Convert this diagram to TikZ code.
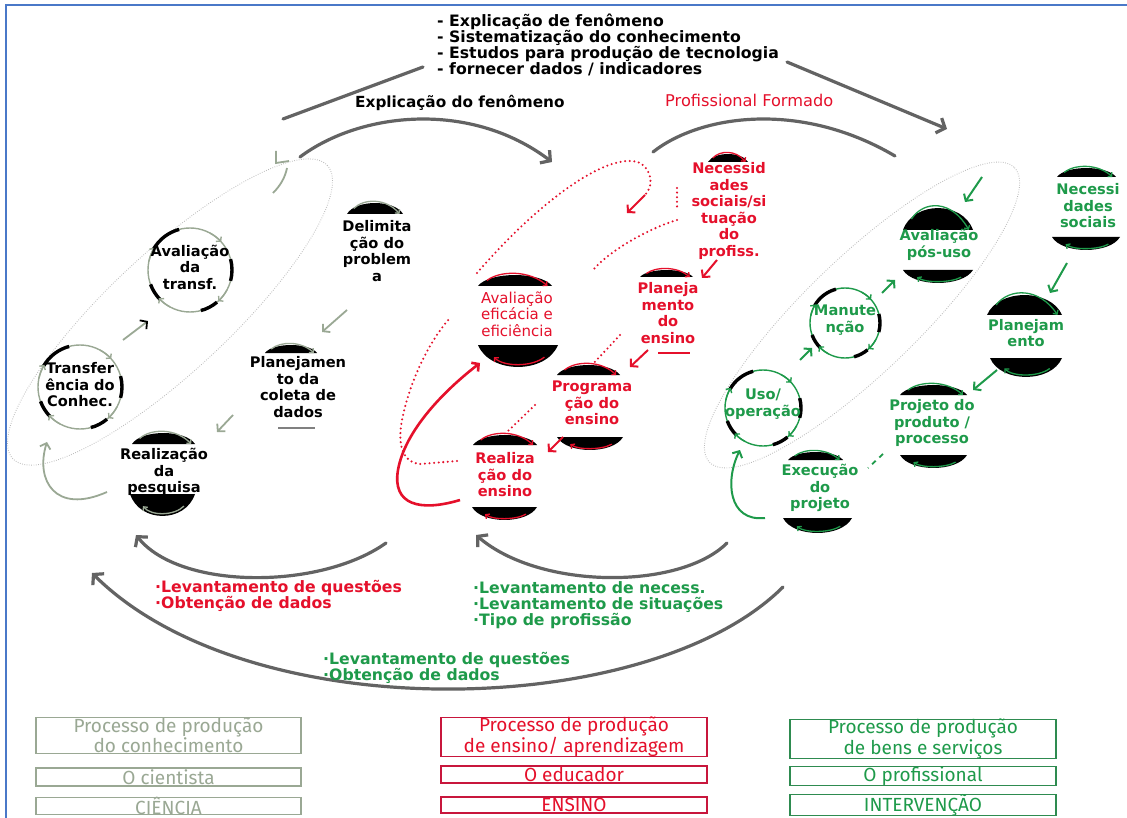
\documentclass[tikz,border=0pt]{standalone}
\usepackage{fontspec}
\setmainfont{DejaVu Sans}
\newfontfamily\boxfont{Fira Sans}
\usetikzlibrary{arrows.meta}
\definecolor{sage}{HTML}{9AA894}
\definecolor{rd}{HTML}{E5102B}
\definecolor{rdbox}{HTML}{C8163C}
\definecolor{gr}{HTML}{1E9A4A}
\definecolor{grbox}{HTML}{2E8B50}
\definecolor{gry}{HTML}{636363}
\definecolor{frameblue}{HTML}{4A78C8}
\newcommand{\topcap}[5]{%
  \pgfmathsetmacro{\myA}{#1+0.15*(#2-#1)}%
  \pgfmathsetmacro{\myB}{#2-0.15*(#2-#1)}%
  \pgfmathsetmacro{\myH}{#3-1.33*#4}%
  \fill[black] (#1,#3) .. controls (\myA,\myH) and (\myB,\myH) .. (#2,#3) -- cycle;
  \pgfmathsetmacro{\myS}{#1+0.12*(#2-#1)}%
  \pgfmathsetmacro{\myE}{#2-0.06*(#2-#1)}%
  \pgfmathsetmacro{\myP}{#1+0.3*(#2-#1)}%
  \pgfmathsetmacro{\myQ}{#2-0.3*(#2-#1)}%
  \pgfmathsetmacro{\myY}{#3-0.5*#4}%
  \pgfmathsetmacro{\myT}{#3-1.3*#4-1.5}%
  \draw[#5, line width=1.3pt, -{Straight Barb[length=3pt,width=6pt]}] (\myS,\myY) .. controls (\myP,\myT) and (\myQ,\myT) .. (\myE,#3);}
\newcommand{\botcap}[5]{%
  \pgfmathsetmacro{\myA}{#1+0.15*(#2-#1)}%
  \pgfmathsetmacro{\myB}{#2-0.15*(#2-#1)}%
  \pgfmathsetmacro{\myH}{#3+1.33*#4}%
  \fill[black] (#1,#3) .. controls (\myA,\myH) and (\myB,\myH) .. (#2,#3) -- cycle;
  \pgfmathsetmacro{\myS}{#2-0.17*(#2-#1)}%
  \pgfmathsetmacro{\myE}{#1+0.2*(#2-#1)}%
  \pgfmathsetmacro{\myP}{#2-0.32*(#2-#1)}%
  \pgfmathsetmacro{\myQ}{#1+0.32*(#2-#1)}%
  \pgfmathsetmacro{\myY}{#3+0.55*#4}%
  \pgfmathsetmacro{\myT}{#3+1.0*#4}%
  \draw[#5, line width=1.3pt, -{Straight Barb[length=3pt,width=6pt]}] (\myS,\myY) .. controls (\myP,\myT) and (\myQ,\myT) .. (\myE,\myY);}
\newcommand{\ringdeco}[4]{%
  \draw[#4, line width=1.4pt] (#1,#2) circle[radius=#3];
  \foreach \ra/\rb in {-150/-105, -15/15, -225/-200, -310/-285}
    \draw[black, line width=3.4pt] (#1,#2) ++(\ra:#3) arc[start angle=\ra, end angle=\rb, radius=#3];
  \foreach \ra/\rb in {-62/-42, 28/48, 118/138, -168/-148}
    \draw[#4, line width=1.4pt, -{Straight Barb[length=3pt,width=7pt]}] (#1,#2) ++(\ra:#3) arc[start angle=\ra, end angle=\rb, radius=#3];}
\begin{document}
\begin{tikzpicture}[x=1pt,y=-1pt,
  gline/.style={draw=gry, line width=3.2pt, line cap=round},
  garrow/.style={gline, -{Straight Barb[length=7pt,width=16pt]}},
  sarrow/.style={draw=sage, line width=1.8pt, -{Straight Barb[length=5pt,width=11pt]}},
  rarrow/.style={draw=rd, line width=2pt, -{Straight Barb[length=5pt,width=11pt]}},
  grarrow/.style={draw=gr, line width=2pt, -{Straight Barb[length=5pt,width=11pt]}},
  rdots/.style={draw=rd, line width=2.3pt, dash pattern=on 0pt off 4.6pt, line cap=round},
  loopline/.style={draw=gray!55, line width=0.9pt, dash pattern=on 0.7pt off 1.6pt},
  lab/.style={align=center, inner sep=0pt, font=\fontsize{14.6}{16.5}\selectfont\bfseries},
  txt/.style={anchor=base west, inner sep=0pt, font=\fontsize{15.7}{16}\selectfont\bfseries},
  boxtxt/.style={font=\boxfont\fontsize{19}{15.5}\selectfont, align=center, inner sep=0pt, line width=1.3pt}
]
\useasboundingbox (0,0) rectangle (1127,818);
\fill[white] (0,0) rectangle (1127,818);
\draw[frameblue, line width=2pt] (6,818) -- (6,5) -- (1127,5);

% ---------- top texts ----------
\node[txt] (t1) at (437,27) {- Explicação de fenômeno};
\node[txt] (t2) at (437,43) {- Sistematização do conhecimento};
\node[txt] (t3) at (437,59) {- Estudos para produção de tecnologia};
\node[txt] (t4) at (437,75) {- fornecer dados / indicadores};
\node[txt, font=\fontsize{15.3}{16}\selectfont\bfseries] (expl) at (355,108) {Explicação do fenômeno};
\node[txt, text=rd, font=\fontsize{16.2}{16}\selectfont] (prof) at (665,107) {Profissional Formado};

% ---------- dotted loops ----------
\draw[loopline, rotate around={43:(170,312)}] (170,312) ellipse[x radius=215, y radius=60];
\draw[loopline, rotate around={44:(862,315)}] (862,315) ellipse[x radius=212, y radius=57];

% ---------- gray big arrows ----------
\coordinate (ga1) at (283,119); \coordinate (ga2) at (423,67);
\coordinate (ga3) at (787,62);  \coordinate (ga4) at (947,129);
\draw[gline] (ga1) -- (ga2);
\draw[garrow] (ga3) -- (ga4);
\coordinate (gb1) at (300,157); \coordinate (gb2) at (552,162);
\draw[garrow] (gb1) .. controls (360,112) and (470,100) .. (gb2);
\coordinate (gc1) at (653,152); \coordinate (gc2) at (895,156);
\draw[gline] (gc1) .. controls (700,115) and (800,100) .. (gc2);
\coordinate (gd1) at (386,543); \coordinate (gd2) at (136,535);
\draw[garrow] (gd1) .. controls (320,590) and (180,590) .. (gd2);
\coordinate (ge1) at (727,543); \coordinate (ge2) at (476,535);
\draw[garrow] (ge1) .. controls (680,590) and (540,590) .. (ge2);
\coordinate (gf1) at (783,587); \coordinate (gf2) at (92,573);
\draw[garrow] (gf1) .. controls (650,720) and (250,730) .. (gf2);

% ---------- red dotted lines ----------
\draw[rdots] (457,461) -- (420,464) .. controls (400,462) and (398,440) .. (402,420) .. controls (410,380) and (430,340) .. (450,318);
\draw[rdots] (477,273) .. controls (540,200) and (610,150) .. (640,163) .. controls (652,170) and (654,186) .. (645,195);
\draw[rdots] (677,188) -- (677,208);
\draw[rdots] (677,220) .. controls (650,228) and (610,250) .. (593,270);
\draw[rdots] (620,335) -- (592,365);
\draw[rdots] (535,405) -- (507,432);

% ---------- left (ciência) nodes ----------
\ringdeco{190}{270}{42}{sage}
\ringdeco{80}{387}{42}{sage}
\node[lab] (avaltr) at (190,267) {Avaliação\\da\\transf.};
\node[lab] (transf) at (80,385) {Transfer\\ência do\\Conhec.};
\topcap{347}{403}{214}{11}{sage}
\node[lab] (delim) at (377,251) {Delimita\\ção do\\problem\\a};
\topcap{265}{317}{353}{8}{sage}
\draw[gray, line width=1.2pt] (278,428) -- (315,428);
\node[lab] (plancol) at (298,387) {Planejamen\\to da\\coleta de\\dados};
\topcap{132}{195}{444}{11}{sage}
\botcap{130}{195}{494}{22}{sage}
\node[lab] (realpesq) at (164,472) {Realização\\da\\pesquisa};

% left arrows
\draw[sarrow] (347,310) -- (322,332);
\draw[sarrow] (233,415) -- (217,432);
\draw[sarrow] (107,492) .. controls (55,515) and (35,480) .. (47,442);
\draw[draw=sage, line width=1.8pt, -{Straight Barb[length=5pt,width=11pt,color=black]}] (123,340) -- (148,321);
\draw[sage, line width=1.8pt] (276,151) -- (276,163) -- (289,161);
\draw[sage, line width=1.8pt] (287,168) .. controls (285,178) and (280,186) .. (273,193);

% ---------- center (ensino) nodes ----------
\topcap{708}{748}{162}{8}{rd}
\node[lab, text=rd] (necr) at (729,211) {Necessid\\ades\\sociais/si\\tuação\\do\\profiss.};
\topcap{478}{552}{286}{11}{rd}
\botcap{478}{558}{345}{22}{rd}
\node[lab, text=rd, font=\fontsize{15}{16.5}\selectfont] (avalef) at (517,314) {Avaliação\\eficácia e\\eficiência};
\topcap{640}{693}{277}{7}{rd}
\draw[rd, line width=1.5pt] (658,353) -- (690,353);
\node[lab, text=rd] (planens) at (668,313) {Planeja\\mento\\do\\ensino};
\topcap{557}{620}{375}{10}{rd}
\botcap{557}{623}{437}{13}{rd}
\node[lab, text=rd] (prog) at (592,403) {Programa\\ção do\\ensino};
\topcap{473}{537}{445}{10}{rd}
\botcap{472}{537}{507}{13}{rd}
\node[lab, text=rd] (realens) at (505,475) {Realiza\\ção do\\ensino};

% center arrows
\draw[rarrow] (717,260) -- (702,278);
\draw[rarrow] (648,350) -- (630,367);
\draw[rarrow] (563,437) -- (548,452);
\draw[rarrow] (645,195) -- (627,213);
\draw[rarrow, line width=2.6pt] (460,500) .. controls (420,512) and (392,505) .. (398,470) .. controls (405,430) and (445,390) .. (480,363);

% ---------- right (intervenção) nodes ----------
\topcap{1057}{1116}{177}{9}{gr}
\botcap{1052}{1120}{237}{13}{gr}
\node[lab, text=gr] (necg) at (1088,206) {Necessi\\dades\\sociais};
\topcap{903}{973}{230}{22}{gr}
\botcap{903}{973}{270}{13}{gr}
\node[lab, text=gr] (avalpos) at (939,245) {Avaliação\\pós-uso};
\topcap{987}{1062}{315}{20}{gr}
\botcap{990}{1062}{358}{19}{gr}
\node[lab, text=gr] (plang) at (1026,333) {Planejam\\ento};
\topcap{900}{967}{395}{10}{gr}
\botcap{900}{967}{455}{13}{gr}
\node[lab, text=gr] (proj) at (932,423) {Projeto do\\produto /\\processo};
\topcap{788}{843}{460}{8}{gr}
\botcap{783}{852}{518}{15}{gr}
\node[lab, text=gr] (exec) at (820,488) {Execução\\do\\projeto};
\ringdeco{845}{323}{35}{gr}
\ringdeco{763}{408}{38}{gr}
\node[lab, text=gr] (manut) at (845,320) {Manute\\nção};
\node[lab, text=gr] (uso) at (763,404) {Uso/\\operação};

% right arrows
\draw[grarrow] (1067,263) -- (1050,293);
\draw[grarrow] (997,370) -- (973,390);
\draw[gr, line width=1.8pt, dash pattern=on 5pt off 5pt] (883,454) -- (868,468);
\draw[grarrow] (765,518) .. controls (728,522) and (725,480) .. (740,450);
\draw[grarrow] (800,360) -- (812,348);
\draw[grarrow] (882,293) -- (895,280);
\draw[grarrow] (982,177) -- (965,202);

% ---------- bottom labels ----------
\node[txt, text=rd] (lq1) at (155,592) {·Levantamento de questões};
\node[txt, text=rd] (od1) at (155,608) {·Obtenção de dados};
\node[txt, text=gr] (ln) at (473,593) {·Levantamento de necess.};
\node[txt, text=gr] (ls) at (473,609) {·Levantamento de situações};
\node[txt, text=gr] (tp) at (473,625) {·Tipo de profissão};
\node[txt, text=gr] (lq2) at (323,664) {·Levantamento de questões};
\node[txt, text=gr] (od2) at (323,680) {·Obtenção de dados};

% ---------- legend boxes ----------
\node[boxtxt, draw=sage, text=sage, minimum width=265pt, minimum height=35pt] (b11) at (168.5,735.5) {Processo de produção\\do conhecimento};
\node[boxtxt, draw=sage, text=sage, minimum width=265pt, minimum height=18pt] (b12) at (168.5,777) {O cientista};
\node[boxtxt, draw=sage, text=sage, minimum width=265pt, minimum height=16pt] (b13) at (168.5,806) {CIÊNCIA};
\node[boxtxt, draw=rdbox, text=rd, minimum width=266pt, minimum height=34pt] (b21) at (574,737) {Processo de produção\\de ensino/ aprendizagem};
\node[boxtxt, draw=rdbox, text=rd, minimum width=266pt, minimum height=17pt] (b22) at (574,774.5) {O educador};
\node[boxtxt, draw=rdbox, text=rd, minimum width=266pt, minimum height=16pt] (b23) at (574,805) {ENSINO};
\node[boxtxt, draw=grbox, text=gr, minimum width=266pt, minimum height=36pt] (b31) at (923,739) {Processo de produção\\de bens e serviços};
\node[boxtxt, draw=grbox, text=gr, minimum width=266pt, minimum height=18pt] (b32) at (923,776) {O profissional};
\node[boxtxt, draw=grbox, text=gr, minimum width=266pt, minimum height=16pt] (b33) at (923,805) {INTERVENÇÃO};
\end{tikzpicture}
\end{document}
